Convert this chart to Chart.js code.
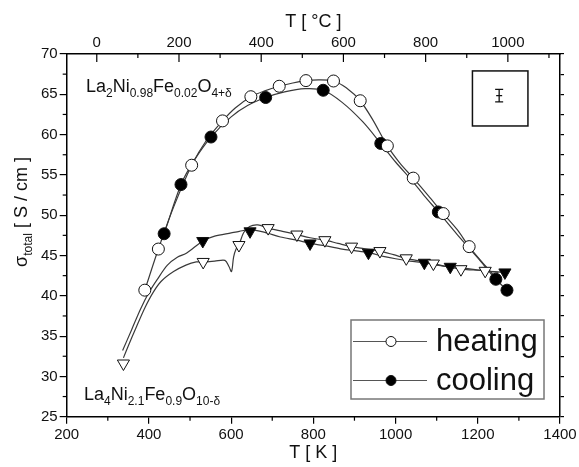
<!DOCTYPE html>
<html>
<head>
<meta charset="utf-8">
<script src="https://cdn.jsdelivr.net/npm/chart.js@4/dist/chart.umd.min.js"></script>
<style>
html,body{margin:0;padding:0;background:#fff;}
canvas{display:block;}
</style>
</head>
<body>
<canvas id="c" width="579" height="467"></canvas>
<script>
// ---- data ----
// La2Ni0.98Fe0.02O4+d : continuous traces
const upHeatTraceK = [390,423,460,504,540,579,610,648,680,717,750,782,815,849,880,914,945,980,1010,1043,1080,1116,1150,1179,1210,1240];
const upHeatTraceS = [40.7,45.8,51.0,56.2,59.3,61.7,63.3,64.7,65.4,66.0,66.4,66.7,66.8,66.65,65.8,64.2,61.8,58.6,56.5,54.6,52.4,50.2,48.2,46.1,44.2,42.5];
const upCoolTraceK = [430,437,478,510,551,600,640,684,730,780,824,870,920,964,1000,1040,1070,1104,1150,1200,1244,1271];
const upCoolTraceS = [46.8,47.7,53.8,56.8,59.7,62.2,63.6,64.6,65.3,65.7,65.5,64.0,61.6,58.9,56.6,54.3,52.4,50.4,47.6,44.7,42.05,40.7];
// La2Ni0.98Fe0.02O4+d : marker points
const upHeatK = [390,423,504,579,648,717,782,849,914,980,1043,1116,1179];
const upHeatS = [40.7,45.8,56.2,61.7,64.7,66.0,66.7,66.65,64.2,58.6,54.6,50.2,46.1];
const upCoolK = [437,478,551,684,824,964,1104,1244,1271];
const upCoolS = [47.7,53.8,59.7,64.6,65.5,58.9,50.4,42.05,40.7];
// La4Ni2.1Fe0.9O10-d : continuous traces
const loHeatTraceK = [338,350,370,390,410,430,460,490,515,532,560,585,595,601,606,612,619,630,645,665,690,725,760,792,828,860,893,930,962,995,1026,1060,1092,1125,1159,1190,1218,1250];
const loHeatTraceS = [32.3,33.8,36.2,38.5,40.4,41.8,43.0,43.8,44.2,44.2,44.3,44.4,43.6,43.0,44.8,45.8,46.3,47.8,48.6,48.8,48.4,48.0,47.6,47.2,46.9,46.5,46.1,45.8,45.55,45.1,44.65,44.3,44.0,43.6,43.3,43.2,43.1,42.9];
const loCoolTraceK = [336,358,380,400,420,445,470,492,531,560,600,620,646,680,720,760,792,830,870,900,934,970,1000,1035,1070,1100,1133,1170,1200,1240,1266];
const loCoolTraceS = [33.2,35.8,38.4,40.4,42.0,43.8,44.8,45.3,46.8,47.4,47.8,48.0,48.2,47.9,47.3,46.9,46.5,46.2,45.8,45.6,45.35,44.9,44.6,44.3,44.1,43.8,43.6,43.4,43.2,43.0,42.9];
// La4Ni2.1Fe0.9O10-d : marker points
const loHeatK = [338,532,619,690,760,828,893,962,1026,1092,1159,1218];
const loHeatS = [31.6,44.2,46.3,48.4,47.6,46.9,46.1,45.55,44.65,44.0,43.3,43.1];
const loCoolK = [531,646,792,934,1070,1133,1266];
const loCoolS = [46.8,48.0,46.5,45.35,44.1,43.6,42.9];
// axes
const xTicksK = [200,400,600,800,1000,1200,1400];
const xMinorK = [300,500,700,900,1100,1300];
const yTicks = [25,30,35,40,45,50,55,60,65,70];
const topTicksC = [0,200,400,600,800,1000];
const topMinorC = [100,300,500,700,900,1100];
const KELVIN = 273.15;
// error-bar inset (data coordinates)
const errBox = {k1:1187, k2:1322, s1:67.9, s2:61.07};
const errBar = {k:1252, s:64.83, e:0.77};
const legendItems = ['heating','cooling'];

const pts = (xs, ys) => xs.map((x,i)=>({x:x, y:ys[i]}));
const FONT = 'Liberation Sans, Arial, sans-serif';
const plain = (v) => String(v);

function traceDs(xs, ys){
  return {data: pts(xs,ys), showLine:true, borderColor:'#3a3a3a', borderWidth:1.2, pointRadius:0, tension:0.3, order:10, fill:false};
}
function markDs(xs, ys, style, filled){
  return {data: pts(xs,ys), showLine:false, pointStyle:style, rotation: style==='triangle'?180:0,
    pointRadius: style==='triangle'?7:6, pointBackgroundColor: filled?'#000':'#fff',
    pointBorderColor:'#111', pointBorderWidth:1, order:0};
}

const drawText = (ctx, segs, x, y, big, small) => {
  ctx.textBaseline = 'alphabetic'; ctx.textAlign='left';
  let cx = x;
  segs.forEach(([t,sub])=>{
    ctx.font = (sub?small:big)+'px '+FONT;
    ctx.fillText(t, cx, y + (sub?5:0));
    cx += ctx.measureText(t).width;
  });
};

const decor = {
  id:'decor',
  afterDraw(chart){
    const ctx = chart.ctx;
    const xs = chart.scales.x, ys = chart.scales.y, ca = chart.chartArea;
    ctx.save();
    ctx.strokeStyle = '#000'; ctx.lineWidth = 1.2;
    // minor ticks bottom (outward)
    xMinorK.forEach(k=>{const p=xs.getPixelForValue(k); ctx.beginPath(); ctx.moveTo(p,ca.bottom); ctx.lineTo(p,ca.bottom+4); ctx.stroke();});
    // minor ticks left (outward)
    yTicks.slice(0,-1).forEach(v=>{const p=ys.getPixelForValue(v+2.5); ctx.beginPath(); ctx.moveTo(ca.left,p); ctx.lineTo(ca.left-4,p); ctx.stroke();});
    // top ticks (inward)
    topTicksC.forEach(c=>{const p=xs.getPixelForValue(c+KELVIN); ctx.beginPath(); ctx.moveTo(p,ca.top); ctx.lineTo(p,ca.top+8); ctx.stroke();});
    topMinorC.forEach(c=>{const p=xs.getPixelForValue(c+KELVIN); ctx.beginPath(); ctx.moveTo(p,ca.top); ctx.lineTo(p,ca.top+4); ctx.stroke();});
    // y axis title with subscript
    ctx.save();
    ctx.translate(27, 212);
    ctx.rotate(-Math.PI/2);
    ctx.fillStyle = '#111';
    const big=18, small=12;
    ctx.font = big+'px '+FONT;
    const w1 = ctx.measureText('σ').width;
    ctx.font = small+'px '+FONT;
    const w2 = ctx.measureText('total').width;
    ctx.font = big+'px '+FONT;
    const w3 = ctx.measureText(' [ S / cm ]').width;
    const tw = w1+w2+w3;
    drawText(ctx, [['σ',0],['total',1],[' [ S / cm ]',0]], -tw/2, 0, big, small);
    ctx.restore();
    // formula annotations
    ctx.fillStyle = '#111';
    drawText(ctx, [['La',0],['2',1],['Ni',0],['0.98',1],['Fe',0],['0.02',1],['O',0],['4+δ',1]], 86, 92, 18, 12);
    drawText(ctx, [['La',0],['4',1],['Ni',0],['2.1',1],['Fe',0],['0.9',1],['O',0],['10-δ',1]], 84, 400, 18, 12);
    // error bar inset
    const bx1 = xs.getPixelForValue(errBox.k1), bx2 = xs.getPixelForValue(errBox.k2);
    const by1 = ys.getPixelForValue(errBox.s1), by2 = ys.getPixelForValue(errBox.s2);
    ctx.lineWidth = 1.5; ctx.strokeStyle='#111';
    ctx.strokeRect(bx1, by1, bx2-bx1, by2-by1);
    const ex = xs.getPixelForValue(errBar.k);
    const et = ys.getPixelForValue(errBar.s+errBar.e), eb = ys.getPixelForValue(errBar.s-errBar.e), em = ys.getPixelForValue(errBar.s);
    ctx.lineWidth = 1.3;
    ctx.beginPath();
    ctx.moveTo(ex,et); ctx.lineTo(ex,eb);
    ctx.moveTo(ex-4,et); ctx.lineTo(ex+4,et);
    ctx.moveTo(ex-4,eb); ctx.lineTo(ex+4,eb);
    ctx.moveTo(ex-3,em); ctx.lineTo(ex+3,em);
    ctx.stroke();
    // legend
    const lx1=351, ly1=320, lx2=544, ly2=399;
    ctx.fillStyle='#fff'; ctx.fillRect(lx1,ly1,lx2-lx1,ly2-ly1);
    ctx.strokeStyle='#777'; ctx.lineWidth=1.5; ctx.strokeRect(lx1,ly1,lx2-lx1,ly2-ly1);
    legendItems.forEach((name,i)=>{
      const yy = i===0?341.5:380.5;
      ctx.strokeStyle='#555'; ctx.lineWidth=1;
      ctx.beginPath(); ctx.moveTo(353,yy); ctx.lineTo(427,yy); ctx.stroke();
      ctx.beginPath(); ctx.arc(391,yy,5,0,Math.PI*2);
      ctx.fillStyle = i===0?'#fff':'#000'; ctx.fill();
      ctx.strokeStyle='#111'; ctx.lineWidth=1; ctx.stroke();
      ctx.fillStyle='#111'; ctx.font='31px '+FONT; ctx.textBaseline='middle'; ctx.textAlign='left';
      ctx.fillText(name, 436, yy+1);
    });
    ctx.restore();
  }
};

new Chart(document.getElementById('c'), {
  type:'scatter',
  data:{datasets:[
    markDs(upHeatK, upHeatS, 'circle', false),
    markDs(upCoolK, upCoolS, 'circle', true),
    markDs(loHeatK, loHeatS, 'triangle', false),
    markDs(loCoolK, loCoolS, 'triangle', true),
    traceDs(upHeatTraceK, upHeatTraceS),
    traceDs(upCoolTraceK, upCoolTraceS),
    traceDs(loHeatTraceK, loHeatTraceS),
    traceDs(loCoolTraceK, loCoolTraceS)
  ]},
  options:{
    responsive:false, animation:false,
    layout:{padding:0},
    plugins:{legend:{display:false}, tooltip:{enabled:false}},
    scales:{
      x:{type:'linear', position:'bottom', min:200, max:1400,
        afterBuildTicks:(s)=>{s.ticks = xTicksK.map(v=>({value:v}));},
        ticks:{font:{size:15, family:FONT}, color:'#111', padding:2, maxRotation:0, callback:plain},
        grid:{drawOnChartArea:false, tickLength:7, color:'#000', lineWidth:1.2},
        border:{color:'#000', width:1.5},
        title:{display:true, text:'T [ K ]', font:{size:18, family:FONT}, color:'#111', padding:{top:0,bottom:3}},
        afterFit:(s)=>{s.height = 50.3;}
      },
      xt:{type:'linear', position:'top', min:200-KELVIN, max:1400-KELVIN,
        afterBuildTicks:(s)=>{s.ticks = topTicksC.map(v=>({value:v}));},
        ticks:{font:{size:15, family:FONT}, color:'#111', padding:2, maxRotation:0, callback:plain},
        grid:{drawOnChartArea:false, drawTicks:false},
        border:{color:'#000', width:1.5},
        title:{display:true, text:'T [ °C ]', font:{size:18, family:FONT}, color:'#111', padding:{top:11,bottom:0}},
        afterFit:(s)=>{s.height = 54;}
      },
      y:{type:'linear', position:'left', min:25, max:70,
        afterBuildTicks:(s)=>{s.ticks = yTicks.map(v=>({value:v}));},
        ticks:{font:{size:15, family:FONT}, color:'#111', padding:2, callback:plain},
        grid:{drawOnChartArea:false, tickLength:7, color:'#000', lineWidth:1.2},
        border:{color:'#000', width:1.5},
        afterFit:(s)=>{s.width = 66.7;}
      },
      y2:{type:'linear', position:'right', min:25, max:70,
        afterBuildTicks:(s)=>{const t=[]; yTicks.forEach(v=>{t.push({value:v}); if(v<70) t.push({value:v+2.5});}); s.ticks=t;},
        ticks:{display:false},
        grid:{drawOnChartArea:false, tickLength:4, color:'#000', lineWidth:1.2},
        border:{color:'#000', width:1.5},
        afterFit:(s)=>{s.width = 19;}
      }
    }
  },
  plugins:[decor]
});
</script>
</body>
</html>
